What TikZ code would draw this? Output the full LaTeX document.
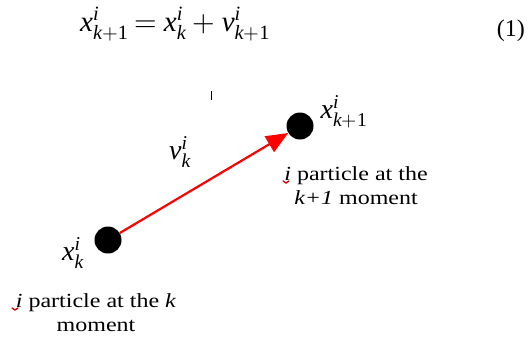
\documentclass[tikz,border=0pt]{standalone}
\usepackage{amsmath}
\usepackage{fontspec}
\setmainfont{Liberation Serif}
\newfontfamily\lblfont[FakeStretch=1.2]{Liberation Serif}
\usepackage{unicode-math}
\setmathfont{Latin Modern Math}
\usetikzlibrary{arrows.meta}
\tikzset{
  particle/.style={circle,fill=black,minimum size=27pt,inner sep=0pt},
  vec/.style={red,line width=2.2pt,-{Triangle[length=22pt,width=18pt]}},
  lbl/.style={font=\lblfont\fontsize{20}{24}\selectfont,align=center,inner sep=0pt},
  sym/.style={font=\fontsize{28}{32}\selectfont,inner sep=0pt},
  eqn/.style={font=\fontsize{29}{33}\selectfont,inner sep=0pt},
  spell/.style={red!85!black,line width=1.3pt,line cap=round}
}
\newcommand{\mv}[1]{\text{\itshape #1}}
\newcommand{\mn}[1]{\text{\upshape #1}}
\newcommand{\ital}[1]{\textit{#1}}
\begin{document}
\begin{tikzpicture}[x=1pt,y=-1pt]
\useasboundingbox (0,0) rectangle (529,341);
% equation
\node[eqn,anchor=base west] (eq) at (80,31) {$\mv{x}^{\mv{i}}_{\mv{k}+\mn{1}} \:{=}\: \mv{x}^{\mv{i}}_{\mv{k}} \:{+}\: \mv{v}^{\mv{i}}_{\mv{k}+\mn{1}}$};
\node[font=\fontsize{24}{28}\selectfont,inner sep=0pt,anchor=base east] (num) at (525,36) {(1)};
% tick
\coordinate (tickt) at (211,91);
\coordinate (tickb) at (211,100);
\draw (tickt) -- (tickb);
% particles
\node[particle] (p1) at (108,240) {};
\node[particle] (p2) at (300,126) {};
\draw[vec] (p1) -- (p2);
% labels
\node[sym] (v) at (180,152) {$\mv{v}^{\mv{i}}_{\mv{k}}$};
\node[sym] (x2) at (344,112) {$\mv{x}^{\mv{i}}_{\mv{k}+\mn{1}}$};
\node[sym] (x1) at (73,253) {$\mv{x}^{\mv{i}}_{\mv{k}}$};
\node[lbl] (t1) at (96,313) {\ital{i} particle at the \ital{k}\\moment};
\node[lbl] (t2) at (356,186) {\ital{i} particle at the\\\ital{k+1} moment};
% spelling marks
\draw[spell] (12,308) -- (15,310) -- (18,308);
\draw[spell] (283,181) -- (286,183) -- (289,181);
\end{tikzpicture}
\end{document}
